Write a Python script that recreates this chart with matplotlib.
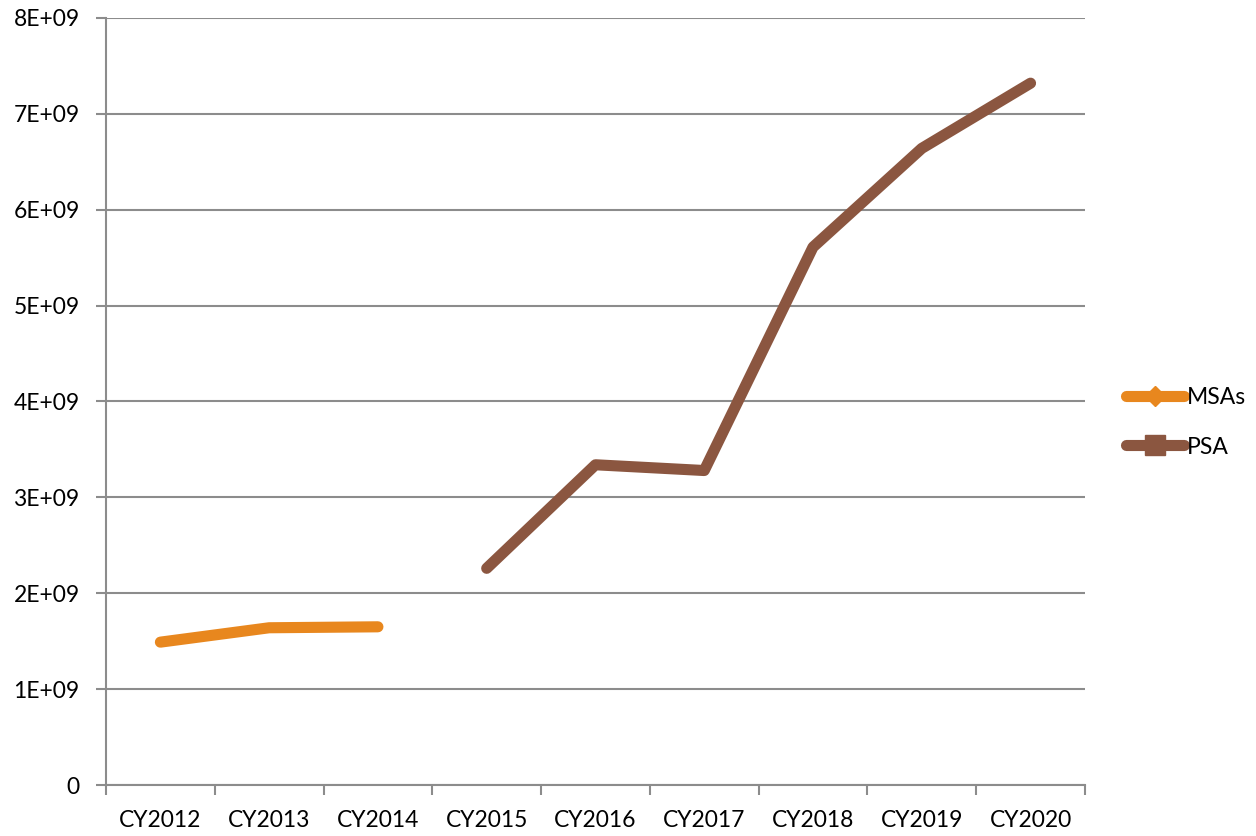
import numpy as np
import matplotlib.pyplot as plt
from matplotlib.lines import Line2D

years = ["CY2012", "CY2013", "CY2014", "CY2015", "CY2016",
         "CY2017", "CY2018", "CY2019", "CY2020"]
msas = [1.49e9, 1.64e9, 1.65e9, np.nan, np.nan, np.nan, np.nan, np.nan, np.nan]
psa = [np.nan, np.nan, np.nan, 2.26e9, 3.34e9, 3.28e9, 5.61e9, 6.64e9, 7.32e9]
yticks = [0, 1e9, 2e9, 3e9, 4e9, 5e9, 6e9, 7e9, 8e9]
ylabels = ["0", "1E+09", "2E+09", "3E+09", "4E+09", "5E+09", "6E+09", "7E+09", "8E+09"]

c_msa = "#E8871E"
c_psa = "#8B5640"
grey = "#8c8c8c"

plt.rcParams['font.family'] = ['Lato', 'DejaVu Sans']

fig = plt.figure(figsize=(12.56, 8.36), dpi=100)
ax = fig.add_axes([0.0844, 0.061, 0.7794, 0.9175])

x = np.arange(len(years))
ax.plot(x, msas, color=c_msa, lw=8, solid_capstyle='round', solid_joinstyle='round')
ax.plot(x, psa, color=c_psa, lw=8, solid_capstyle='round', solid_joinstyle='round')

ax.set_xlim(-0.5, len(years) - 0.5)
ax.set_ylim(0, 8e9)
ax.set_yticks(yticks)
ax.set_yticklabels(ylabels)
ax.set_xticks(x)
ax.set_xticklabels(years)
ax.set_xticks(np.arange(-0.5, len(years)), minor=True)
ax.tick_params(axis='x', which='major', length=0, pad=18, labelsize=16.5)
ax.tick_params(axis='x', which='minor', length=7, color=grey, width=1.5)
ax.tick_params(axis='y', length=7, color=grey, width=1.5, pad=12, labelsize=16.5)

ax.grid(axis='y', color=grey, lw=1.5)
ax.set_axisbelow(True)
for s in ['top', 'right']:
    ax.spines[s].set_visible(False)
for s in ['left', 'bottom']:
    ax.spines[s].set_color(grey)
    ax.spines[s].set_linewidth(1.5)

handles = [
    Line2D([], [], color=c_msa, lw=8, marker='D', markersize=10, solid_capstyle='round'),
    Line2D([], [], color=c_psa, lw=8, marker='s', markersize=14, solid_capstyle='round'),
]
fig.legend(handles, ["MSAs", "PSA"], loc='center left', bbox_to_anchor=(0.884, 0.495),
           frameon=False, fontsize=16.5, handlelength=2.5, handletextpad=0.15,
           labelspacing=1.25, borderpad=0.2)

fig.savefig("out.png", dpi=100)
